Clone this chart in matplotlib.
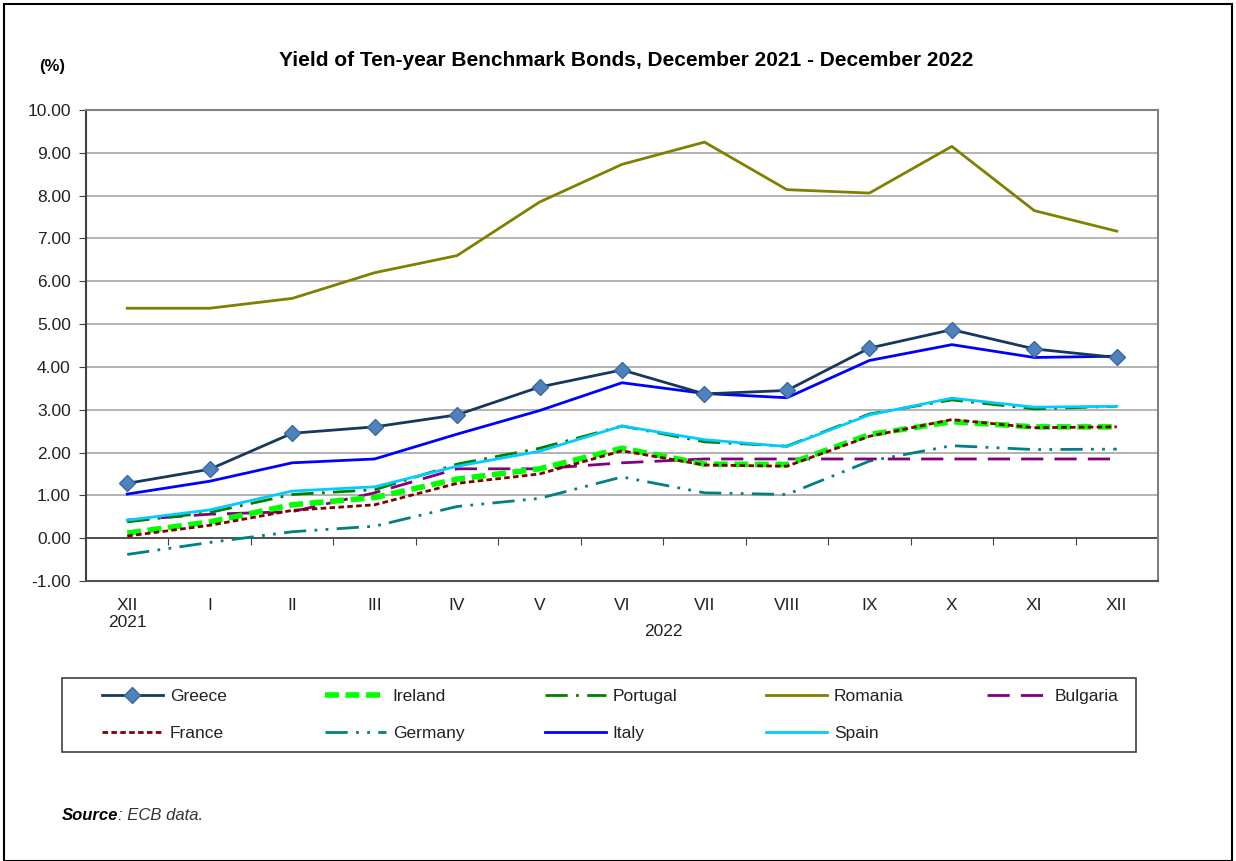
import numpy as np
import matplotlib
matplotlib.use('Agg')
import matplotlib.pyplot as plt
from matplotlib.patches import Rectangle

plt.rcParams['font.family'] = ['Liberation Sans', 'DejaVu Sans']

# Month labels (Dec 2021 - Dec 2022)
months = ['XII\n2021', 'I', 'II', 'III', 'IV', 'V', 'VI', 'VII', 'VIII', 'IX', 'X', 'XI', 'XII']

# Ten-year bond yields, %
greece   = [1.28, 1.61, 2.45, 2.60, 2.88, 3.53, 3.93, 3.37, 3.45, 4.44, 4.87, 4.42, 4.22]
ireland  = [0.12, 0.38, 0.78, 0.95, 1.38, 1.62, 2.10, 1.73, 1.72, 2.42, 2.72, 2.60, 2.60]
portugal = [0.38, 0.60, 1.02, 1.13, 1.73, 2.10, 2.62, 2.25, 2.15, 2.90, 3.23, 3.02, 3.08]
romania  = [5.37, 5.37, 5.60, 6.20, 6.60, 7.85, 8.73, 9.25, 8.14, 8.06, 9.15, 7.65, 7.17]
bulgaria = [0.42, 0.56, 0.62, 1.06, 1.62, 1.62, 1.76, 1.85, 1.85, 1.85, 1.85, 1.85, 1.85]
france   = [0.05, 0.30, 0.65, 0.78, 1.28, 1.50, 2.04, 1.71, 1.68, 2.38, 2.77, 2.58, 2.60]
germany  = [-0.38, -0.10, 0.15, 0.28, 0.74, 0.93, 1.43, 1.06, 1.02, 1.80, 2.16, 2.07, 2.08]
italy    = [1.03, 1.33, 1.76, 1.85, 2.43, 2.98, 3.63, 3.38, 3.28, 4.15, 4.52, 4.22, 4.25]
spain    = [0.42, 0.66, 1.10, 1.20, 1.68, 2.03, 2.62, 2.30, 2.14, 2.88, 3.27, 3.06, 3.08]

x = np.arange(len(months))

fig = plt.figure(figsize=(12.36, 8.61), dpi=100)
ax = fig.add_axes([86/1236, 1-581/861, (1158-86)/1236, (581-110)/861])

# draw order: background lines first
l_rom, = ax.plot(x, romania, color='#808000', lw=2, label='Romania')
l_ger, = ax.plot(x, germany, color='#008080', lw=2, dashes=(8, 3, 1, 3, 1, 3), label='Germany')
l_bul, = ax.plot(x, bulgaria, color='#800080', lw=2, dashes=(8, 4), label='Bulgaria')
l_ire, = ax.plot(x, ireland, color='#00FF00', lw=4, dashes=(2.5, 1.2), label='Ireland')
l_fra, = ax.plot(x, france, color='#800000', lw=2, dashes=(2, 1.2), label='France')
l_por, = ax.plot(x, portugal, color='#008000', lw=2, dashes=(8, 3, 1, 3), label='Portugal')
l_spa, = ax.plot(x, spain, color='#00CCFF', lw=2, label='Spain')
l_ita, = ax.plot(x, italy, color='#0000FF', lw=2, label='Italy')
l_gre, = ax.plot(x, greece, color='#17375E', lw=2, marker='D', markersize=8,
                 markerfacecolor='#4F81BD', markeredgecolor='#3A6A9E', label='Greece')

ax.set_xlim(-0.5, 12.5)
ax.set_ylim(-1, 10)
ax.set_yticks(np.arange(-1, 11, 1))
ax.set_yticklabels(['%.2f' % v for v in np.arange(-1, 11, 1)], fontsize=12.5, color='#222222')
ax.grid(axis='y', color='#A6A6A6', lw=1.2)
ax.set_axisbelow(True)
ax.axhline(0, color='#404040', lw=1.2, zorder=1)
for s in ax.spines.values():
    s.set_color('#808080')
    s.set_linewidth(1.5)
ax.spines['left'].set_color('#404040')
ax.spines['bottom'].set_color('#505050')
ax.tick_params(axis='y', direction='out', length=5, color='#404040', pad=6)

# category labels below plot, ticks at the zero line between categories
ax.set_xticks(x)
ax.set_xticklabels(months, fontsize=12.5, va='top', color='#222222')
ax.tick_params(axis='x', length=0, pad=12)
sec = ax.secondary_xaxis(1/11)
sec.set_xticks(np.arange(0.5, 12, 1))
sec.set_xticklabels([])
sec.tick_params(direction='out', length=5, color='#404040')
sec.spines['bottom'].set_visible(False)
ax.text(6.5, -2.0, '2022', ha='center', va='top', fontsize=12.5, color='#222222')

fig.text(626/1236, 1-61/861, 'Yield of Ten-year Benchmark Bonds, December 2021 - December 2022',
         ha='center', va='center', fontsize=15, fontweight='bold')
fig.text(52/1236, 1-67/861, '(%)', ha='center', va='center', fontsize=12, fontweight='bold')

# legend: Excel-style fixed-width columns, one legend per column inside a shared frame
columns = [[l_gre, l_fra], [l_ire, l_ger], [l_por, l_ita], [l_rom, l_spa], [l_bul]]
col_x = [102, 325, 545, 766, 987]
for cx, col in zip(col_x, columns):
    leg = fig.legend(handles=col, labels=[h.get_label() for h in col],
                     loc='upper left', bbox_to_anchor=(cx/1236, 1-689/861),
                     fontsize=12.5, frameon=False, handlelength=3.5, handletextpad=0.4,
                     borderaxespad=0, borderpad=0, labelspacing=1.25)
    for t in leg.get_texts():
        t.set_color('#222222')
fig.patches.append(Rectangle((62/1236, 1-752/861), 1074/1236, 74/861, transform=fig.transFigure,
                             fill=False, edgecolor='#404040', lw=1.2))

src = fig.text(62/1236, 1-815/861, 'Source', ha='left', va='center', fontsize=12,
               fontweight='bold', style='italic')
ax.annotate(': ECB data.', xy=(1, 0.5), xycoords=src, ha='left', va='center',
            fontsize=12, style='italic', color='#333333', annotation_clip=False)

fig.patches.append(Rectangle((4/1236, 0), 1-8/1236, 1-4/861, transform=fig.transFigure,
                             fill=False, edgecolor='black', lw=1.5))

fig.savefig('out.png', dpi=100)
